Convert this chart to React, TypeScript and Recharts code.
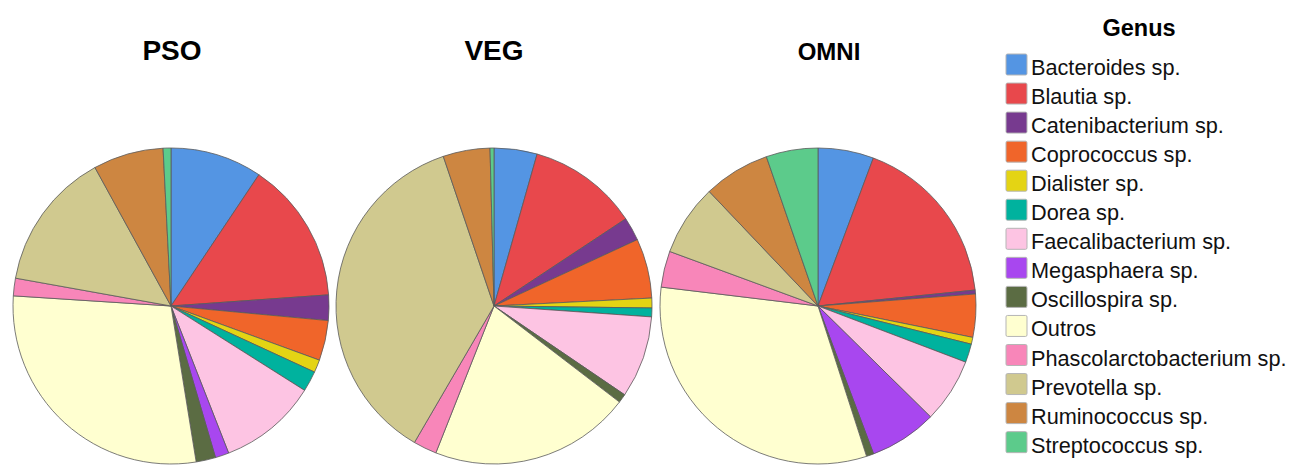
import { PieChart, Pie, Cell } from "recharts"

const genera = [
  "Bacteroides sp.",
  "Blautia sp.",
  "Catenibacterium sp.",
  "Coprococcus sp.",
  "Dialister sp.",
  "Dorea sp.",
  "Faecalibacterium sp.",
  "Megasphaera sp.",
  "Oscillospira sp.",
  "Outros",
  "Phascolarctobacterium sp.",
  "Prevotella sp.",
  "Ruminococcus sp.",
  "Streptococcus sp.",
]

const colors = [
  "#5495E3",
  "#E8484C",
  "#773A8F",
  "#F0652A",
  "#E4D414",
  "#00B29E",
  "#FDC4E3",
  "#A847EF",
  "#5B6C43",
  "#FFFFD0",
  "#F886B9",
  "#D0C98F",
  "#CD8641",
  "#5CCB8B",
]

const psoValues = [9.4, 14.5, 2.6, 4.1, 1.3, 2.1, 10.1, 1.4, 2.0, 28.6, 1.8, 14.2, 7.2, 0.8]
const vegValues = [4.4, 11.3, 2.4, 6.1, 1.0, 0.9, 8.4, 0, 0.9, 20.6, 2.4, 36.4, 4.8, 0.4]
const omniValues = [5.7, 17.7, 0.4, 4.4, 0.7, 1.9, 6.6, 6.9, 0.75, 31.9, 3.7, 7.3, 6.8, 5.3]

const groups = ["PSO", "VEG", "OMNI"]

const toData = (values: number[]) => genera.map((name, i) => ({ name, value: values[i] }))

const pies = [
  { title: groups[0], data: toData(psoValues), cx: 171, titleX: 172, size: 28 },
  { title: groups[1], data: toData(vegValues), cx: 494, titleX: 494, size: 28 },
  { title: groups[2], data: toData(omniValues), cx: 818, titleX: 829, size: 24 },
]

const font = "'Liberation Sans', Arial, sans-serif"
const rowGap = 29.05

export default function App() {
  return (
    <div style={{ position: "absolute", left: 0, top: 0, width: 1292, height: 466, background: "#fff", overflow: "hidden" }}>
      <PieChart width={1292} height={466} margin={{ top: 0, right: 0, bottom: 0, left: 0 }}>
        {pies.map((p) => (
          <Pie
            key={p.title}
            data={p.data}
            dataKey="value"
            nameKey="name"
            cx={p.cx}
            cy={306}
            outerRadius={158}
            startAngle={90}
            endAngle={-270}
            stroke="#5a5a5a"
            strokeWidth={0.8}
            isAnimationActive={false}
          >
            {p.data.map((d, i) => (
              <Cell key={d.name} fill={colors[i]} />
            ))}
          </Pie>
        ))}
      </PieChart>
      <svg width={1292} height={466} style={{ position: "absolute", left: 0, top: 0, pointerEvents: "none" }}>
        {pies.map((p) => (
          <text key={p.title} x={p.titleX} y={60} textAnchor="middle" fontFamily={font} fontWeight="bold" fontSize={p.size}>
            {p.title}
          </text>
        ))}
        <text x={1139} y={36} textAnchor="middle" fontFamily={font} fontWeight="bold" fontSize={23.5}>
          Genus
        </text>
        {genera.map((g, i) => (
          <g key={g}>
            <rect x={1006} y={54 + i * rowGap} width={21} height={21} fill={colors[i]} stroke="#b5b5b5" strokeWidth={1} rx={1.5} />
            <text x={1031} y={75 + i * rowGap} fontFamily={font} fontSize={21.7} fill="#111">
              {g}
            </text>
          </g>
        ))}
      </svg>
    </div>
  )
}
